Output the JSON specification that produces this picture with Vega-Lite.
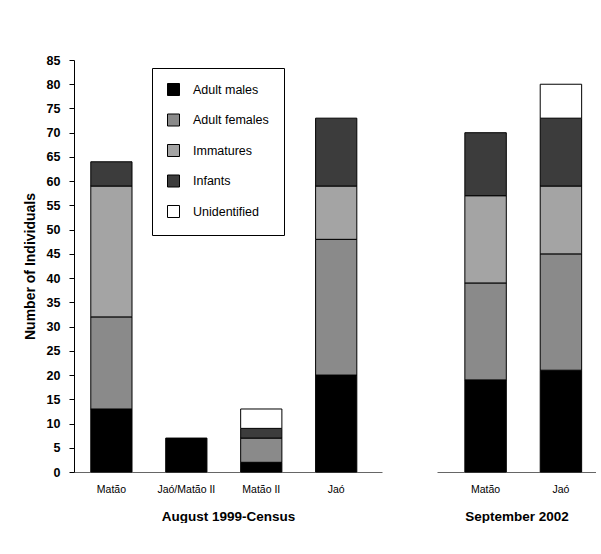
{
  "$schema": "https://vega.github.io/schema/vega-lite/v6.json",
  "padding": {"left": 23, "top": 54, "right": 0, "bottom": 0},
  "background": "white",
  "config": {"font": "Liberation Sans", "view": {"stroke": null}, "concat": {"spacing": 55}},
  "data": {"values": [
    {"period": "August 1999-Census", "site": "Matão", "class": "Adult males", "count": 13},
    {"period": "August 1999-Census", "site": "Matão", "class": "Adult females", "count": 19},
    {"period": "August 1999-Census", "site": "Matão", "class": "Immatures", "count": 27},
    {"period": "August 1999-Census", "site": "Matão", "class": "Infants", "count": 5},
    {"period": "August 1999-Census", "site": "Jaó/Matão II", "class": "Adult males", "count": 7},
    {"period": "August 1999-Census", "site": "Matão II", "class": "Adult males", "count": 2},
    {"period": "August 1999-Census", "site": "Matão II", "class": "Adult females", "count": 5},
    {"period": "August 1999-Census", "site": "Matão II", "class": "Infants", "count": 2},
    {"period": "August 1999-Census", "site": "Matão II", "class": "Unidentified", "count": 4},
    {"period": "August 1999-Census", "site": "Jaó", "class": "Adult males", "count": 20},
    {"period": "August 1999-Census", "site": "Jaó", "class": "Adult females", "count": 28},
    {"period": "August 1999-Census", "site": "Jaó", "class": "Immatures", "count": 11},
    {"period": "August 1999-Census", "site": "Jaó", "class": "Infants", "count": 14},
    {"period": "September 2002", "site": "Matão", "class": "Adult males", "count": 19},
    {"period": "September 2002", "site": "Matão", "class": "Adult females", "count": 20},
    {"period": "September 2002", "site": "Matão", "class": "Immatures", "count": 18},
    {"period": "September 2002", "site": "Matão", "class": "Infants", "count": 13},
    {"period": "September 2002", "site": "Jaó", "class": "Adult males", "count": 21},
    {"period": "September 2002", "site": "Jaó", "class": "Adult females", "count": 24},
    {"period": "September 2002", "site": "Jaó", "class": "Immatures", "count": 14},
    {"period": "September 2002", "site": "Jaó", "class": "Infants", "count": 14},
    {"period": "September 2002", "site": "Jaó", "class": "Unidentified", "count": 7}
  ]},
  "transform": [
    {"calculate": "indexof(['Adult males', 'Adult females', 'Immatures', 'Infants', 'Unidentified'], datum.class)", "as": "stackrank"}
  ],
  "resolve": {"legend": {"color": "independent"}},
  "hconcat": [
    {
      "transform": [{"filter": "datum.period == 'August 1999-Census'"}],
      "width": 308,
      "height": 412,
      "mark": {"type": "bar", "stroke": "#000", "strokeWidth": 1},
      "encoding": {
        "x": {
          "field": "site", "type": "nominal",
          "sort": ["Matão", "Jaó/Matão II", "Matão II", "Jaó"],
          "title": "August 1999-Census",
          "scale": {"paddingInner": 0.45, "paddingOuter": 0.28, "align": 0.4},
          "axis": {"labelAngle": 0, "ticks": false, "domainColor": "#666", "labelFontSize": 10.5, "labelColor": "#000", "labelPadding": 12, "titleFontSize": 13.5, "titleFontWeight": "bold", "titlePadding": 15, "titleColor": "#000"}
        },
        "y": {
          "field": "count", "type": "quantitative", "stack": "zero",
          "scale": {"domain": [0, 85], "nice": false},
          "axis": {"values": [0, 5, 10, 15, 20, 25, 30, 35, 40, 45, 50, 55, 60, 65, 70, 75, 80, 85], "grid": false, "tickSize": 5, "tickColor": "#000", "domainColor": "#000", "labelFontSize": 12.5, "labelFontWeight": "bold", "labelColor": "#000", "labelPadding": 9, "title": "Number of Individuals", "titleFontSize": 14, "titleFontWeight": "bold", "titlePadding": 9, "titleColor": "#000"}
        },
        "order": {"field": "stackrank", "type": "quantitative", "sort": "ascending"},
        "color": {
          "field": "class", "type": "nominal",
          "sort": ["Adult males", "Adult females", "Immatures", "Infants", "Unidentified"],
          "scale": {"domain": ["Adult males", "Adult females", "Immatures", "Infants", "Unidentified"], "range": ["#000000", "#8a8a8a", "#a4a4a4", "#3c3c3c", "#ffffff"]},
          "legend": {"title": null, "orient": "none", "legendX": 78, "legendY": 8, "symbolType": "square", "symbolSize": 144, "symbolStrokeColor": "#000", "symbolStrokeWidth": 1, "symbolOpacity": 1, "labelFontSize": 12.5, "labelColor": "#000", "labelOffset": 13, "rowPadding": 13.5, "padding": 15, "strokeColor": "#000", "fillColor": "#fff"}
        }
      }
    },
    {
      "transform": [{"filter": "datum.period == 'September 2002'"}],
      "width": 159,
      "height": 412,
      "mark": {"type": "bar", "stroke": "#000", "strokeWidth": 1},
      "encoding": {
        "x": {
          "field": "site", "type": "nominal",
          "sort": ["Matão", "Jaó"],
          "title": "September 2002",
          "scale": {"paddingInner": 0.45, "paddingOuter": 0.28, "align": 0.66},
          "axis": {"labelAngle": 0, "ticks": false, "domainColor": "#666", "labelFontSize": 10.5, "labelColor": "#000", "labelPadding": 12, "titleFontSize": 13.5, "titleFontWeight": "bold", "titlePadding": 15, "titleColor": "#000"}
        },
        "y": {
          "field": "count", "type": "quantitative", "stack": "zero",
          "scale": {"domain": [0, 85], "nice": false},
          "axis": null
        },
        "order": {"field": "stackrank", "type": "quantitative", "sort": "ascending"},
        "color": {
          "field": "class", "type": "nominal",
          "sort": ["Adult males", "Adult females", "Immatures", "Infants", "Unidentified"],
          "scale": {"domain": ["Adult males", "Adult females", "Immatures", "Infants", "Unidentified"], "range": ["#000000", "#8a8a8a", "#a4a4a4", "#3c3c3c", "#ffffff"]},
          "legend": null
        }
      }
    }
  ]
}
